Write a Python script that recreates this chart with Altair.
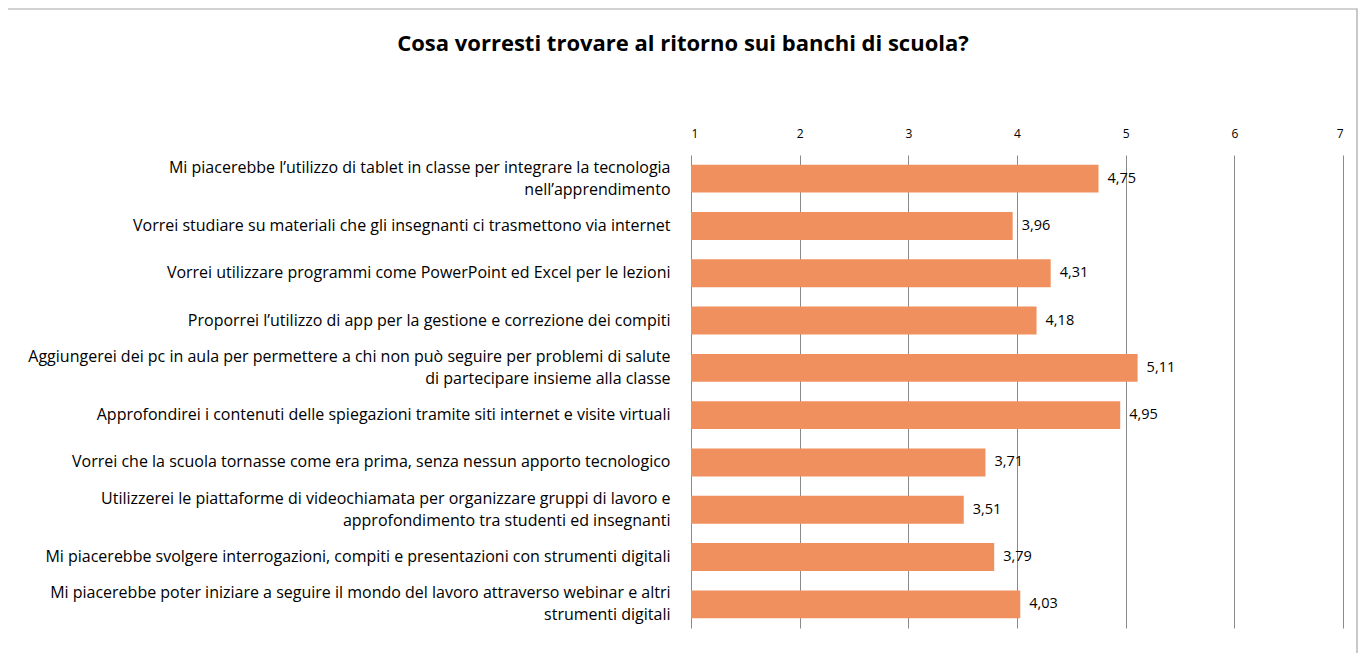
import altair as alt
import pandas as pd

categories = [
    "Mi piacerebbe l’utilizzo di tablet in classe per integrare la tecnologia|nell’apprendimento",
    "Vorrei studiare su materiali che gli insegnanti ci trasmettono via internet",
    "Vorrei utilizzare programmi come PowerPoint ed Excel per le lezioni",
    "Proporrei l’utilizzo di app per la gestione e correzione dei compiti",
    "Aggiungerei dei pc in aula per permettere a chi non può seguire per problemi di salute|di partecipare insieme alla classe",
    "Approfondirei i contenuti delle spiegazioni tramite siti internet e visite virtuali",
    "Vorrei che la scuola tornasse come era prima, senza nessun apporto tecnologico",
    "Utilizzerei le piattaforme di videochiamata per organizzare gruppi di lavoro e|approfondimento tra studenti ed insegnanti",
    "Mi piacerebbe svolgere interrogazioni, compiti e presentazioni con strumenti digitali",
    "Mi piacerebbe poter iniziare a seguire il mondo del lavoro attraverso webinar e altri|strumenti digitali",
]
values = [4.75, 3.96, 4.31, 4.18, 5.11, 4.95, 3.71, 3.51, 3.79, 4.03]
x_ticks = [1, 2, 3, 4, 5, 6, 7]
title_text = "Cosa vorresti trovare al ritorno sui banchi di scuola?"

df = pd.DataFrame({"cat": categories, "v": values})
title_df = pd.DataFrame({"t": [title_text]})

FONT = "Open Sans"
W, H = 652, 473

y_enc = alt.Y(
    "cat:N",
    sort=None,
    title=None,
    scale=alt.Scale(paddingInner=0.41, paddingOuter=0.205),
    axis=alt.Axis(
        labelExpr="split(datum.label, '|')",
        labelFont=FONT,
        labelFontSize=16,
        labelColor="#000000",
        labelLineHeight=22,
        labelPadding=21,
        labelLimit=800,
        labelOffset={"condition": {"test": "indexof(datum.value, '|') >= 0", "value": -11}, "value": 0},
        ticks=False,
        domain=False,
    ),
)

x_scale = alt.Scale(domain=[1, 7], nice=False, zero=False)

bars = alt.Chart(df).mark_bar(color="#F0905F").encode(
    x=alt.X(
        "v:Q",
        scale=x_scale,
        title=None,
        axis=alt.Axis(
            orient="top",
            values=x_ticks,
            format="d",
            labelFont=FONT,
            labelFontSize=12,
            labelColor="#000000",
            labelPadding=15,
            ticks=False,
            domain=False,
            grid=True,
            gridColor="#8a8a8a",
            gridWidth=1,
        ),
    ),
    x2=alt.datum(1),
    y=y_enc,
)

texts = alt.Chart(df).transform_calculate(
    lab="replace(format(datum.v, '.2f'), '.', ',')"
).mark_text(align="left", dx=9, font=FONT, fontSize=14.5, color="#000000").encode(
    x=alt.X("v:Q", scale=x_scale),
    y=alt.Y("cat:N", sort=None),
    text="lab:N",
)

title = alt.Chart(title_df).mark_text(
    font=FONT, fontSize=22, fontWeight="bold", color="#000000", align="center", baseline="middle"
).encode(text="t:N", x=alt.value(-8), y=alt.value(-111))

border = alt.Chart(title_df).mark_rect(fill=None, stroke="#a6a6a6", strokeWidth=1.2).encode(
    x=alt.value(-684), x2=alt.value(666), y=alt.value(-146), y2=alt.value(520)
)

chart = alt.layer(border, title, bars, texts).properties(
    width=W,
    height=H,
    background="white",
    autosize=alt.AutoSizeParams(type="none"),
    padding={"left": 683, "top": 147, "right": 15, "bottom": 25},
).configure_view(strokeWidth=0, stroke="transparent")

chart.save("out.html", embed_options={"renderer": "svg", "actions": False})
